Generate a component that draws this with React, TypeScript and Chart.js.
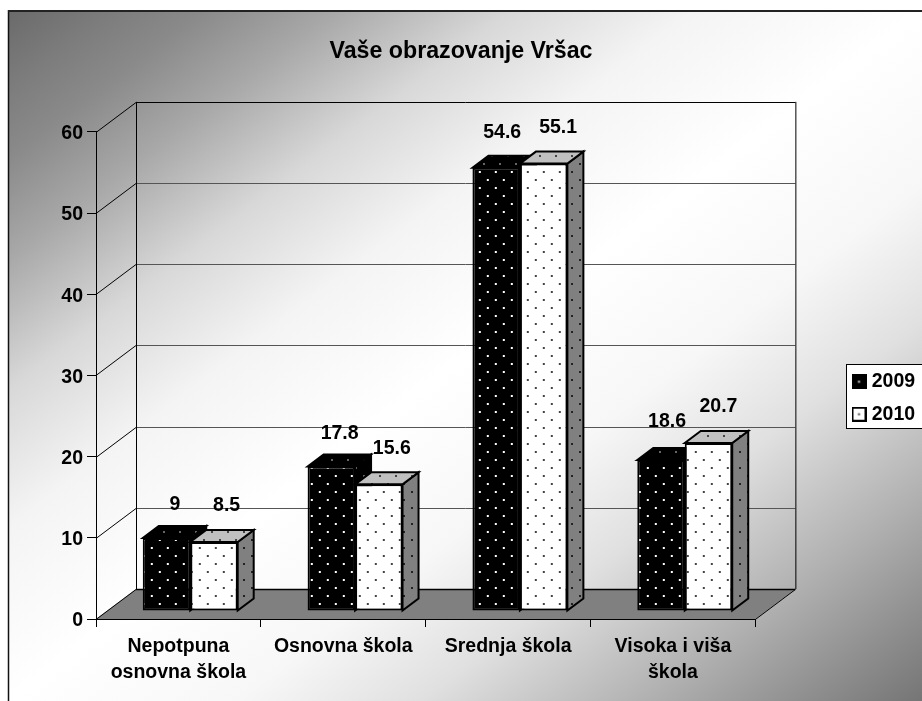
import React, { useEffect, useRef } from "react";
import { Chart, registerables } from "chart.js";

Chart.register(...registerables);

const categories = [["Nepotpuna", "osnovna škola"], "Osnovna škola", "Srednja škola", ["Visoka i viša", "škola"]];
const series2009 = [9, 17.8, 54.6, 18.6];
const series2010 = [8.5, 15.6, 55.1, 20.7];
const seriesNames = ["2009", "2010"];
const yTicks = [0, 10, 20, 30, 40, 50, 60];
// label nudges relative to the front top centre of each bar
const labelNudge2009 = [[8.5, -33], [8.3, -32.5], [6, -35], [6, -38]];
const labelNudge2010 = [[12.7, -36], [13, -35.7], [14.5, -36], [10, -36.3]];

const FONT = "'Liberation Sans', Arial, sans-serif";
const WALL_DX = 40, WALL_DY = -30;
const BAR_DX = 11.8, BAR_DY = -8;
const DEPTH_DX = 16, DEPTH_DY = -12;

function dotPattern(bg: string, dot: string, size = 2) {
  const c = document.createElement("canvas");
  c.width = 16; c.height = 16;
  const x = c.getContext("2d")!;
  x.fillStyle = bg; x.fillRect(0, 0, 16, 16);
  x.fillStyle = dot;
  x.fillRect(4 - size / 2, 4 - size / 2, size, size);
  x.fillRect(12 - size / 2, 12 - size / 2, size, size);
  return x.createPattern(c, "repeat")!;
}

function swatch(bg: string, dot: string) {
  const c = document.createElement("canvas");
  c.width = 15; c.height = 15;
  const x = c.getContext("2d")!;
  x.fillStyle = bg; x.fillRect(0, 0, 15, 15);
  x.strokeStyle = "#000"; x.lineWidth = 2; x.strokeRect(1, 1, 13, 13);
  x.fillStyle = dot; x.fillRect(6.5, 6.5, 2, 2);
  return c;
}

function poly(ctx: CanvasRenderingContext2D, pts: number[][], fill: any, stroke?: string, lw = 1) {
  ctx.beginPath();
  pts.forEach((p, i) => (i ? ctx.lineTo(p[0], p[1]) : ctx.moveTo(p[0], p[1])));
  ctx.closePath();
  if (fill) { ctx.fillStyle = fill; ctx.fill(); }
  if (stroke) { ctx.strokeStyle = stroke; ctx.lineWidth = lw; ctx.stroke(); }
}

function line(ctx: CanvasRenderingContext2D, x1: number, y1: number, x2: number, y2: number, color: string, lw = 1) {
  ctx.strokeStyle = color; ctx.lineWidth = lw;
  ctx.beginPath(); ctx.moveTo(x1, y1); ctx.lineTo(x2, y2); ctx.stroke();
}

export default function App() {
  const ref = useRef<HTMLCanvasElement>(null);
  useEffect(() => {
    const tops = [dotPattern("#000000", "#666666"), dotPattern("#c0c0c0", "#444444")];
    const sides = [dotPattern("#000000", "#666666"), dotPattern("#808080", "#222222")];
    const swatches = [swatch("#000", "#ddd"), swatch("#fff", "#444")];

    const scene = {
      id: "scene",
      beforeDraw(chart: any) {
        const ctx = chart.ctx as CanvasRenderingContext2D;
        const { width: w, height: h, chartArea: a } = chart;
        ctx.save();
        ctx.fillStyle = "#fff"; ctx.fillRect(0, 0, w, h);
        const g = ctx.createLinearGradient(133, -84, 797, 796);
        const stops: [number, string][] = [
          [0, "#6a6a6a"], [0.0565, "#7c7c7c"], [0.1075, "#8a8a8a"], [0.18, "#a8a8a8"], [0.275, "#d8d8d8"],
          [0.375, "#f4f4f4"], [0.5, "#ffffff"], [0.625, "#f7f7f7"], [0.725, "#e0e0e0"], [0.8, "#c3c3c3"],
          [0.85, "#b0b0b0"], [0.925, "#929292"], [1, "#757575"],
        ];
        stops.forEach(([t, c]) => g.addColorStop(t, c));
        ctx.fillStyle = g; ctx.fillRect(8, 11, w - 8, h - 11);
        line(ctx, 8.5, 10, 8.5, h, "#111", 1.5);
        line(ctx, 8, 11, w, 11, "#222", 2);

        const y = chart.scales.y;
        poly(ctx, [[a.left, a.bottom], [a.right, a.bottom], [a.right + WALL_DX, a.bottom + WALL_DY], [a.left + WALL_DX, a.bottom + WALL_DY]], "#808080");
        yTicks.forEach((t) => {
          const py = Math.round(y.getPixelForValue(t)) + 0.5;
          line(ctx, a.left, py, a.left + WALL_DX, py + WALL_DY, "#000");
          line(ctx, a.left + WALL_DX, py + WALL_DY, a.right + WALL_DX, py + WALL_DY, t === 0 || t === 60 ? "#000" : "#555", t === 0 ? 1.5 : 1);
        });
        line(ctx, a.left + WALL_DX + 0.5, a.top + WALL_DY, a.left + WALL_DX + 0.5, a.bottom + WALL_DY, "#000");
        line(ctx, a.right + WALL_DX + 0.5, a.top + WALL_DY, a.right + WALL_DX + 0.5, a.bottom + WALL_DY, "#000");
        line(ctx, a.right, a.bottom + 0.5, a.right + WALL_DX, a.bottom + WALL_DY + 0.5, "#000");

        // legend panel
        ctx.fillStyle = "#fff"; ctx.fillRect(846.5, 364.5, 80, 64);
        ctx.strokeStyle = "#000"; ctx.lineWidth = 1; ctx.strokeRect(846.5, 364.5, 80, 64);
        ctx.restore();
      },
      afterLayout(chart: any) {
        const l = chart.legend;
        const wd = l.width, ht = l.height;
        l.left = 843; l.right = 843 + wd; l.top = 359; l.bottom = 359 + ht;
        chart.titleBlock.left = 0;
        chart.titleBlock.right = 922;
      },
      beforeDatasetsDraw(chart: any) {
        const ctx = chart.ctx as CanvasRenderingContext2D;
        // 2009 first, so that 2010 stands in front of it
        [0, 1].forEach((i) => {
          const meta = chart.getDatasetMeta(i);
          meta.data.forEach((el: any) => {
            const x0 = el.x - el.width / 2 + BAR_DX, x1 = el.x + el.width / 2 + BAR_DX;
            const yt = el.y + BAR_DY, yb = el.base + BAR_DY;
            poly(ctx, [[x1, yt], [x1 + DEPTH_DX, yt + DEPTH_DY], [x1 + DEPTH_DX, yb + DEPTH_DY], [x1, yb]], sides[i], "#000", 2);
            poly(ctx, [[x0, yt], [x0 + DEPTH_DX, yt + DEPTH_DY], [x1 + DEPTH_DX, yt + DEPTH_DY], [x1, yt]], tops[i], "#000", 2);
          });
          ctx.save();
          ctx.translate(BAR_DX, BAR_DY);
          meta.controller.draw();
          ctx.restore();
        });

        ctx.save();
        ctx.fillStyle = "#000";
        ctx.font = `bold 19.5px ${FONT}`;
        ctx.textAlign = "center";
        ctx.textBaseline = "middle";
        [labelNudge2009, labelNudge2010].forEach((nudge, i) => {
          const ds = chart.data.datasets[i];
          chart.getDatasetMeta(i).data.forEach((el: any, j: number) => {
            ctx.fillText(String(ds.data[j]), el.x + BAR_DX + nudge[j][0], el.y + BAR_DY + nudge[j][1]);
          });
        });
        ctx.restore();
        return false;
      },
    };

    const chart = new Chart(ref.current!, {
      type: "bar",
      data: {
        labels: categories as any,
        datasets: [
          { label: seriesNames[0], data: series2009, backgroundColor: dotPattern("#000000", "#ffffff") as any, borderColor: "#000", borderWidth: 2, borderSkipped: false },
          { label: seriesNames[1], data: series2010, backgroundColor: dotPattern("#ffffff", "#444444") as any, borderColor: "#000", borderWidth: 2, borderSkipped: false },
        ],
      },
      options: {
        responsive: false,
        animation: false,
        devicePixelRatio: 1,
        layout: { padding: { left: 0, right: 84.5, top: 0, bottom: 0 } },
        datasets: { bar: { categoryPercentage: 0.576, barPercentage: 1 } },
        scales: {
          x: {
            grid: { drawOnChartArea: false, drawTicks: true, tickLength: 8, color: "#000", lineWidth: 1 },
            border: { color: "#000", width: 1 },
            ticks: { color: "#000", font: { family: FONT, size: 19.5, weight: "bold", lineHeight: 1.36 }, maxRotation: 0, autoSkip: false, padding: 6 },
            afterFit: (s: any) => { s.height = 701 - 619; },
          },
          y: {
            min: 0, max: 60,
            grid: { drawOnChartArea: false, drawTicks: true, tickLength: 9, color: "#000", lineWidth: 1 },
            border: { color: "#000", width: 1 },
            ticks: { color: "#000", stepSize: 10, font: { family: FONT, size: 19.5, weight: "bold" }, padding: 4, labelOffset: 2 },
            afterFit: (s: any) => { s.width = 96; },
          },
        },
        plugins: {
          title: {
            display: true,
            text: "Vaše obrazovanje Vršac",
            color: "#000",
            font: { family: FONT, size: 23.2, weight: "bold", lineHeight: 1.2 },
            padding: { top: 38, bottom: 66 },
          },
          legend: {
            position: "right",
            align: "start",
            labels: {
              color: "#000",
              font: { family: FONT, size: 19.5, weight: "bold" },
              usePointStyle: true,
              pointStyleWidth: 6,
              padding: 13,
              generateLabels: (c: any) =>
                (Chart.defaults as any).plugins.legend.labels.generateLabels(c).map((it: any, i: number) => ({ ...it, pointStyle: swatches[i] })),
            },
          },
          tooltip: { enabled: false },
        },
      },
      plugins: [scene],
    } as any);
    return () => chart.destroy();
  }, []);
  return (
    <div style={{ position: "absolute", left: 0, top: 0, width: 922, height: 701 }}>
      <canvas ref={ref} width={922} height={701} style={{ display: "block" }} />
    </div>
  );
}
